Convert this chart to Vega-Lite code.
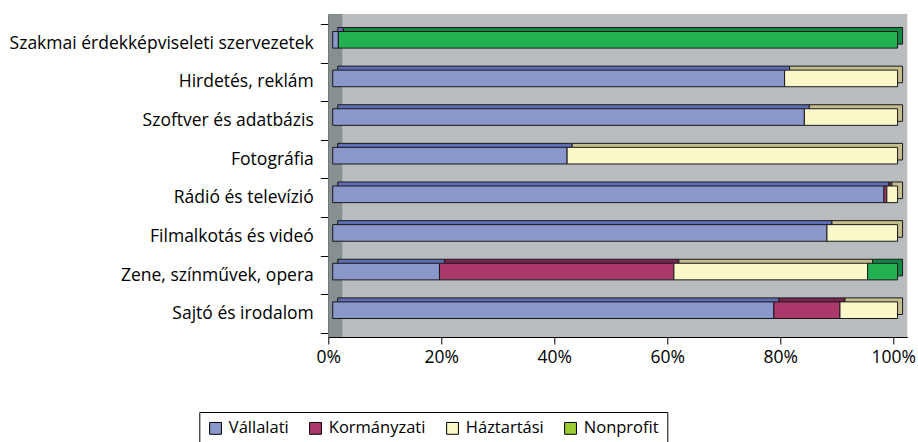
{
  "$schema": "https://vega.github.io/schema/vega-lite/v6.json",
  "width": 579,
  "height": 323,
  "autosize": {"type": "none"},
  "padding": {"left": 328.3, "top": 14, "right": 10.7, "bottom": 105},
  "config": {
    "view": {"fill": "#B9BCBE", "stroke": null},
    "font": "Open Sans",
    "axis": {"labelFont": "Open Sans", "labelFontSize": 17.5, "labelColor": "#000", "domainColor": "#000", "tickColor": "#000", "grid": false, "title": null},
    "legend": {"labelFont": "Open Sans", "labelFontSize": 16.5, "labelColor": "#000"}
  },
  "datasets": {
    "bars": [
      {"label": "Szakmai érdekképviseleti szervezetek", "cat": "Vállalati", "v": 1, "ord": 1},
      {"label": "Szakmai érdekképviseleti szervezetek", "cat": "Nonprofit", "v": 99, "ord": 4},
      {"label": "Hirdetés, reklám", "cat": "Vállalati", "v": 80, "ord": 1},
      {"label": "Hirdetés, reklám", "cat": "Háztartási", "v": 20, "ord": 3},
      {"label": "Szoftver és adatbázis", "cat": "Vállalati", "v": 83.5, "ord": 1},
      {"label": "Szoftver és adatbázis", "cat": "Háztartási", "v": 16.5, "ord": 3},
      {"label": "Fotográfia", "cat": "Vállalati", "v": 41.5, "ord": 1},
      {"label": "Fotográfia", "cat": "Háztartási", "v": 58.5, "ord": 3},
      {"label": "Rádió és televízió", "cat": "Vállalati", "v": 97.6, "ord": 1},
      {"label": "Rádió és televízió", "cat": "Kormányzati", "v": 0.5, "ord": 2},
      {"label": "Rádió és televízió", "cat": "Háztartási", "v": 1.9, "ord": 3},
      {"label": "Filmalkotás és videó", "cat": "Vállalati", "v": 87.5, "ord": 1},
      {"label": "Filmalkotás és videó", "cat": "Háztartási", "v": 12.5, "ord": 3},
      {"label": "Zene, színművek, opera", "cat": "Vállalati", "v": 18.9, "ord": 1},
      {"label": "Zene, színművek, opera", "cat": "Kormányzati", "v": 41.5, "ord": 2},
      {"label": "Zene, színművek, opera", "cat": "Háztartási", "v": 34.3, "ord": 3},
      {"label": "Zene, színművek, opera", "cat": "Nonprofit", "v": 5.3, "ord": 4},
      {"label": "Sajtó és irodalom", "cat": "Vállalati", "v": 78.1, "ord": 1},
      {"label": "Sajtó és irodalom", "cat": "Kormányzati", "v": 11.7, "ord": 2},
      {"label": "Sajtó és irodalom", "cat": "Háztartási", "v": 10.2, "ord": 3}
    ],
    "walls": [{"wall": "left"}]
  },
  "layer": [
    {
      "data": {"name": "walls"},
      "mark": {"type": "rect", "fill": "#879090"},
      "encoding": {
        "x": {"datum": 0, "type": "quantitative", "scale": {"domain": [0, 102.5], "nice": false, "zero": true},
              "axis": {"values": [0, 20, 40, 60, 80, 100], "labelExpr": "datum.value + '%'", "tickSize": 7, "labelPadding": 4, "labelFlush": false, "title": null}},
        "x2": {"datum": 2.48}
      }
    },
    {
      "data": {"name": "bars"},
      "mark": {"type": "bar", "height": {"band": 0.43}, "xOffset": 9.4, "yOffset": -7.5, "stroke": "#1a1a1a", "strokeWidth": 1},
      "encoding": {
        "y": {"field": "label", "type": "nominal",
              "scale": {"domain": ["Szakmai érdekképviseleti szervezetek", "Hirdetés, reklám", "Szoftver és adatbázis", "Fotográfia", "Rádió és televízió", "Filmalkotás és videó", "Zene, színművek, opera", "Sajtó és irodalom"], "paddingInner": 0, "paddingOuter": 0.181, "align": 0.714},
              "axis": {"tickBand": "extent", "tickSize": 8, "labelPadding": 7, "labelLimit": 400, "title": null}},
        "x": {"field": "v", "type": "quantitative", "stack": "zero", "scale": {"domain": [0, 102.5], "nice": false, "zero": true},
              "axis": {"values": [0, 20, 40, 60, 80, 100], "labelExpr": "datum.value + '%'", "tickSize": 7, "labelPadding": 4, "labelFlush": false, "title": null}},
        "color": {"field": "cat", "type": "nominal", "legend": null,
                  "scale": {"domain": ["Vállalati", "Kormányzati", "Háztartási", "Nonprofit"], "range": ["#5F6DB5", "#7C2450", "#C4BE8E", "#128844"]}},
        "order": {"field": "ord", "type": "quantitative"}
      }
    },
    {
      "data": {"name": "bars"},
      "mark": {"type": "bar", "height": {"band": 0.43}, "xOffset": 4.4, "yOffset": -3.5, "stroke": "#1a1a1a", "strokeWidth": 1},
      "encoding": {
        "y": {"field": "label", "type": "nominal",
              "scale": {"domain": ["Szakmai érdekképviseleti szervezetek", "Hirdetés, reklám", "Szoftver és adatbázis", "Fotográfia", "Rádió és televízió", "Filmalkotás és videó", "Zene, színművek, opera", "Sajtó és irodalom"], "paddingInner": 0, "paddingOuter": 0.181, "align": 0.714},
              "axis": {"tickBand": "extent", "tickSize": 8, "labelPadding": 7, "labelLimit": 400, "title": null}},
        "x": {"field": "v", "type": "quantitative", "stack": "zero", "scale": {"domain": [0, 102.5], "nice": false, "zero": true},
              "axis": {"values": [0, 20, 40, 60, 80, 100], "labelExpr": "datum.value + '%'", "tickSize": 7, "labelPadding": 4, "labelFlush": false, "title": null}},
        "color": {"field": "cat", "type": "nominal", "legend": null,
                  "scale": {"domain": ["Vállalati", "Kormányzati", "Háztartási", "Nonprofit"], "range": ["#8A97CB", "#AA386A", "#FAF8C8", "#22B050"]}},
        "order": {"field": "ord", "type": "quantitative"}
      }
    },
    {
      "data": {"name": "bars"},
      "mark": {"type": "bar", "height": {"band": 0.43}, "opacity": 0, "stroke": "#000", "strokeWidth": 1},
      "encoding": {
        "y": {"field": "label", "type": "nominal",
              "scale": {"domain": ["Szakmai érdekképviseleti szervezetek", "Hirdetés, reklám", "Szoftver és adatbázis", "Fotográfia", "Rádió és televízió", "Filmalkotás és videó", "Zene, színművek, opera", "Sajtó és irodalom"], "paddingInner": 0, "paddingOuter": 0.181, "align": 0.714},
              "axis": {"tickBand": "extent", "tickSize": 8, "labelPadding": 7, "labelLimit": 400, "title": null}},
        "x": {"field": "v", "type": "quantitative", "stack": "zero", "scale": {"domain": [0, 102.5], "nice": false, "zero": true},
              "axis": {"values": [0, 20, 40, 60, 80, 100], "labelExpr": "datum.value + '%'", "tickSize": 7, "labelPadding": 4, "labelFlush": false, "title": null}},
        "color": {"field": "cat", "type": "nominal",
                  "scale": {"domain": ["Vállalati", "Kormányzati", "Háztartási", "Nonprofit"], "range": ["#8A97CB", "#AA386A", "#FAF8C8", "#9ACB32"]},
                  "legend": {"title": null, "orient": "none", "legendX": -129, "legendY": 398, "direction": "horizontal",
                             "strokeColor": "#000", "padding": 8, "symbolType": "square", "symbolSize": 140,
                             "symbolStrokeColor": "#000", "symbolStrokeWidth": 1, "symbolOpacity": 1,
                             "columnPadding": 18, "labelOffset": 5}},
        "order": {"field": "ord", "type": "quantitative"}
      }
    }
  ],
  "resolve": {"scale": {"color": "independent"}, "legend": {"color": "independent"}}
}
